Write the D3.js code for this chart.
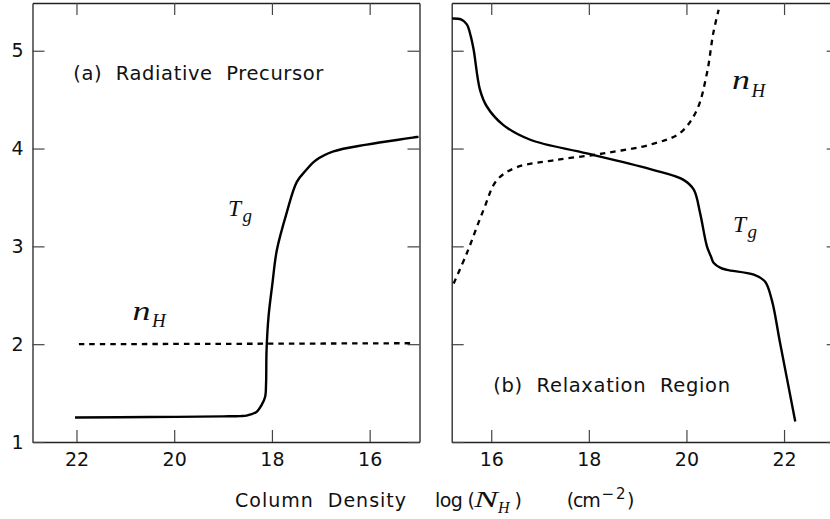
<!DOCTYPE html>
<html><head><meta charset="utf-8">
<script src="https://cdn.jsdelivr.net/npm/d3@7"></script>
<style>
body{margin:0;background:#fff;}
text{font-family:"DejaVu Sans",Verdana,sans-serif;fill:#111;}
.it{font-family:"Liberation Serif","Times New Roman",serif;font-style:italic;}
</style></head>
<body><svg id="c" width="830" height="519"></svg>
<script>
// ---------- data ----------
const yTicks = [1, 2, 3, 4, 5];
const leftXTicks = [22, 20, 18, 16];
const rightXTicks = [16, 18, 20, 22];

// Panel (a) Radiative Precursor: [log N_H, value]
const aTgX = [22.03, 20.5, 19.0, 18.65, 18.52, 18.31, 18.21, 18.14, 18.12, 18.11, 18.07, 17.99, 17.9, 17.7, 17.49, 17.3, 17.1, 16.74, 16.06, 15.0];
const aTgY = [1.25, 1.255, 1.262, 1.265, 1.27, 1.31, 1.38, 1.46, 1.6, 1.94, 2.28, 2.62, 2.96, 3.34, 3.66, 3.78, 3.88, 3.97, 4.04, 4.12];
const aNhX = [21.95, 18.0, 15.16];
const aNhY = [2.0, 2.005, 2.01];

// Panel (b) Relaxation Region
const bTgX = [15.2, 15.38, 15.5, 15.58, 15.64, 15.77, 15.91, 16.25, 16.8, 17.96, 19.33, 19.94, 20.15, 20.28, 20.42, 20.5, 20.56, 20.7, 20.83, 21.38, 21.61, 21.75, 21.92, 22.23];
const bTgY = [5.33, 5.32, 5.27, 5.15, 5.01, 4.60, 4.43, 4.24, 4.09, 3.95, 3.78, 3.68, 3.58, 3.34, 3.0, 2.9, 2.83, 2.78, 2.76, 2.71, 2.64, 2.45, 2.01, 1.21];
const bNhX = [15.23, 15.5, 15.84, 16.12, 16.53, 17.28, 18.3, 19.33, 19.87, 20.21, 20.42, 20.55, 20.66];
const bNhY = [2.62, 2.93, 3.37, 3.68, 3.81, 3.88, 3.95, 4.05, 4.16, 4.39, 4.77, 5.18, 5.42];

// ---------- layout ----------
const svg = d3.select("#c");
const yTop = 3, yBot = 442;
const y = d3.scaleLinear().domain([1, 5.488]).range([yBot, yTop]);
const xa = d3.scaleLinear().domain([22.9, 14.98]).range([32.5, 419.5]);
const xb = d3.scaleLinear().domain([15.19, 23.12]).range([451.7, 838.7]);

function frame(x, xt, yLabels) {
  const [x0, x1] = x.range();
  const gb = svg.append("g").attr("transform", `translate(0,${yBot})`)
    .call(d3.axisBottom(x).tickValues(xt).tickSizeInner(-12).tickSizeOuter(0).tickPadding(11).tickFormat(d3.format("d")));
  const gt = svg.append("g").attr("transform", `translate(0,${yTop})`)
    .call(d3.axisTop(x).tickValues(xt).tickSizeInner(-12).tickSizeOuter(0).tickFormat(""));
  const gl = svg.append("g").attr("transform", `translate(${x0},0)`)
    .call(d3.axisLeft(y).tickValues(yTicks).tickSizeInner(-12).tickSizeOuter(0).tickPadding(9).tickFormat(yLabels ? d3.format("d") : ""));
  const gr = svg.append("g").attr("transform", `translate(${x1},0)`)
    .call(d3.axisRight(y).tickValues(yTicks).tickSizeInner(-12).tickSizeOuter(0).tickFormat(""));
  [gb, gt, gl, gr].forEach(g => {
    g.selectAll("path.domain").attr("stroke", "#222").attr("stroke-width", 1.3);
    g.selectAll(".tick line").attr("stroke", "#444").attr("stroke-width", 1.2);
    g.selectAll(".tick text").attr("font-size", 19).attr("font-family", "Liberation Sans, Arial, sans-serif").attr("fill", "#111");
  });
}
frame(xa, leftXTicks, true);
frame(xb, rightXTicks, false);

function curve(x, xs, ys, dashed) {
  const pts = xs.map((v, i) => [v, ys[i]]);
  const line = d3.line().x(d => x(d[0])).y(d => y(d[1])).curve(d3.curveCatmullRom.alpha(0.5));
  svg.append("path").datum(pts).attr("d", line)
    .attr("fill", "none").attr("stroke", "#000")
    .attr("stroke-width", dashed ? 2.3 : 2.4)
    .attr("stroke-dasharray", dashed ? "5.5,5" : null);
}
curve(xa, aTgX, aTgY, false);
curve(xa, aNhX, aNhY, true);
curve(xb, bTgX, bTgY, false);
curve(xb, bNhX, bNhY, true);

// ---------- labels ----------
function txt(x, yb, s, size, len, cls, adj) {
  const t = svg.append("text").attr("x", x).attr("y", yb).attr("font-size", size)
    .attr("xml:space", "preserve").style("white-space", "pre").text(s);
  if (len) t.attr("textLength", len).attr("lengthAdjust", adj || "spacing");
  if (cls) t.attr("class", cls);
  return t;
}
txt(73.3, 80, "(a)  Radiative  Precursor", 19.5, 250);
txt(493.3, 391.7, "(b)  Relaxation  Region", 19.5, 236.7);

function sym(x, yb, a, b, sa, sb, dx, dy, wa) {
  txt(x, yb, a, sa, wa, "it", "spacingAndGlyphs");
  txt(x + dx, yb + dy, b, sb, null, "it");
}
sym(228, 216, "T", "g", 23.5, 19, 14.5, 6);
sym(733, 232, "T", "g", 23.5, 19, 14.5, 6);
sym(132.5, 320, "n", "H", 27, 19, 19.5, 6.5, 18);
sym(732, 88.5, "n", "H", 27, 19, 19.5, 8, 18);

// bottom axis title
txt(235, 506.5, "Column  Density", 19, 171);
txt(435, 506.5, "log (", 19, 40);
txt(474, 506.5, "N", 23, 24, "it", "spacingAndGlyphs");
txt(498, 513, "H", 16, null, "it");
txt(514.5, 506.5, ")", 19);
txt(566.7, 506.5, "(cm", 19, 34);
txt(601.5, 499, "\u22122", 15, 24);
txt(627, 506.5, ")", 19);
</script></body></html>
